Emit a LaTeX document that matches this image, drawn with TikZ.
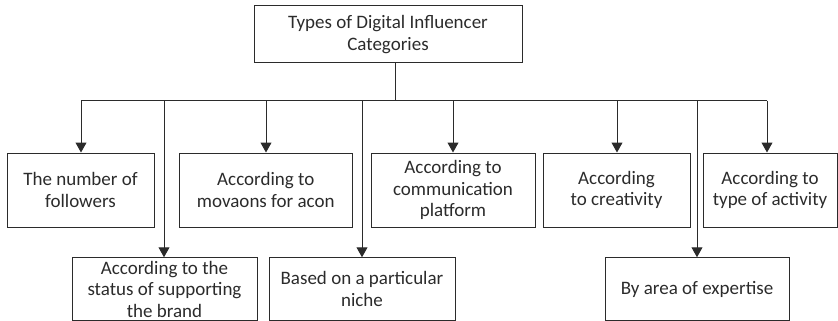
\documentclass[tikz,border=0pt]{standalone}
\usepackage{fontspec}
\setmainfont{Carlito}
\usetikzlibrary{arrows.meta}
\definecolor{ink}{HTML}{2B2B2B}
\tikzset{
  x=1pt, y=-1pt,
  box/.style={draw=ink, line width=1pt, inner sep=1pt, align=center,
              text=ink, font=\fontsize{19}{21.5}\selectfont},
  link/.style={draw=ink, line width=1pt},
  arr/.style={link, -{Triangle[length=10pt,width=11pt]}}
}
\begin{document}
\begin{tikzpicture}
\useasboundingbox (0,0) rectangle (838,321);

% root
\node[box, minimum width=268pt, minimum height=57pt] (root) at (388,34.5)
  {Types of Digital Influencer\\Categories};

% first row
\node[box, minimum width=147pt, minimum height=74pt] (b1) at (80.5,190)
  {The number of\\followers};
\node[box, minimum width=172.5pt, minimum height=74pt] (b2) at (265.75,190)
  {According to\\movaons for acon};
\node[box, minimum width=164pt, minimum height=74pt] (b3) at (453,190)
  {According to\\communication\\platform};
\node[box, minimum width=147pt, minimum height=74pt] (b4) at (616.5,190)
  {According\\to creativity};
\node[box, minimum width=134pt, minimum height=74pt] (b5) at (770,190)
  {According to\\type of activity};

% second row
\node[box, minimum width=185pt, minimum height=62.5pt] (b6) at (164.5,289)
  {According to the\\status of supporting\\the brand};
\node[box, minimum width=186pt, minimum height=62.5pt] (b7) at (362,289)
  {Based on a particular\\niche};
\node[box, minimum width=184pt, minimum height=62.5pt] (b8) at (697,289)
  {By area of expertise};

% junctions on the distribution bar
\coordinate (trunk) at (395,100.5);
\coordinate (j1) at (81,100.5);
\coordinate (j6) at (164,100.5);
\coordinate (j2) at (266,100.5);
\coordinate (j7) at (362,100.5);
\coordinate (j3) at (453,100.5);
\coordinate (j4) at (617,100.5);
\coordinate (j8) at (697,100.5);
\coordinate (j5) at (767,100.5);

\draw[link] (root.south -| trunk) -- (trunk);
\draw[link] (j1) -- (j5);

\draw[arr] (j1) -- (j1 |- b1.north);
\draw[arr] (j2) -- (j2 |- b2.north);
\draw[arr] (j3) -- (j3 |- b3.north);
\draw[arr] (j4) -- (j4 |- b4.north);
\draw[arr] (j5) -- (j5 |- b5.north);
\draw[arr] (j6) -- (j6 |- b6.north);
\draw[arr] (j7) -- (j7 |- b7.north);
\draw[arr] (j8) -- (j8 |- b8.north);
\end{tikzpicture}
\end{document}
